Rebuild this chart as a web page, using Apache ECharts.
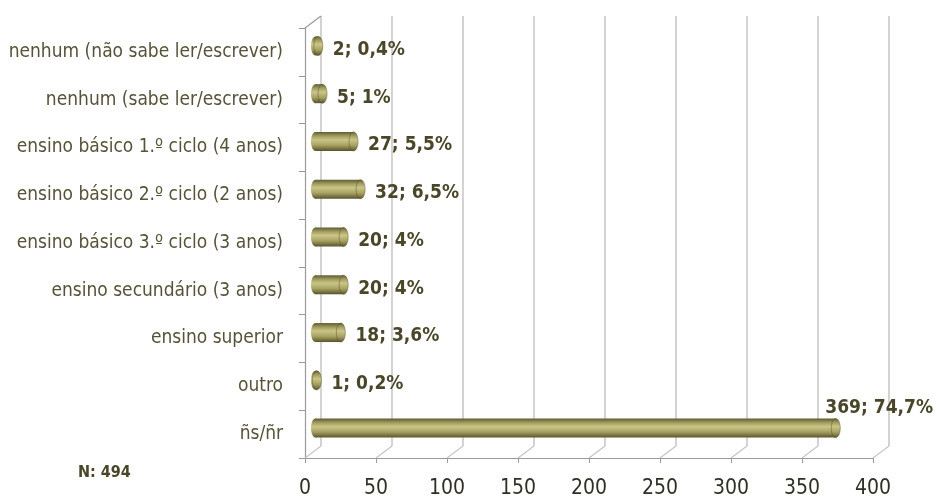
<!DOCTYPE html>
<html>
<head>
<meta charset="utf-8">
<script src="https://cdn.jsdelivr.net/npm/echarts@6/dist/echarts.min.js"></script>
<style>
  html, body { margin: 0; padding: 0; background: #fff; }
  #chart { width: 937px; height: 503px; }
</style>
</head>
<body>
<div id="chart"></div>
<script>
const categories = [
  'nenhum (não sabe ler/escrever)',
  'nenhum (sabe ler/escrever)',
  'ensino básico 1.º ciclo (4 anos)',
  'ensino básico 2.º ciclo (2 anos)',
  'ensino básico 3.º ciclo (3 anos)',
  'ensino secundário (3 anos)',
  'ensino superior',
  'outro',
  'ñs/ñr'
]
const counts = [2, 5, 27, 32, 20, 20, 18, 1, 369]
const percents = ['0,4%', '1%', '5,5%', '6,5%', '4%', '4%', '3,6%', '0,2%', '74,7%']
const xTicks = [0, 50, 100, 150, 200, 250, 300, 350, 400]
const totalN = 'N: 494'

const FONT = '"Liberation Sans Narrow", "DejaVu Sans Condensed", "Roboto", sans-serif'
const TEXT_COLOR = '#57533a'
const LABEL_COLOR = '#4a4629'
const WALL_DX = 16
const WALL_DY = 12

const chart = echarts.init(document.getElementById('chart'))

function cylinderFill() {
  return new echarts.graphic.LinearGradient(0, 0, 0, 1, [
    { offset: 0, color: '#5e5b33' },
    { offset: 0.22, color: '#a39e5e' },
    { offset: 0.42, color: '#cac688' },
    { offset: 0.7, color: '#a8a161' },
    { offset: 1, color: '#57532d' }
  ])
}

function renderCylinder(params, api) {
  const idx = params.dataIndex
  const val = api.value(0)
  const start = api.coord([0, api.value(1)])
  const end = api.coord([val, api.value(1)])
  const h = 19
  const rx = 4.5
  const y = start[1] - h / 2
  const isLast = idx === counts.length - 1
  const children = [
    {
      type: 'ellipse',
      shape: { cx: start[0] + rx, cy: start[1], rx: rx, ry: h / 2 },
      style: { fill: cylinderFill() }
    },
    {
      type: 'rect',
      shape: { x: start[0] + rx, y: y, width: Math.max(end[0] - start[0], 0), height: h },
      style: { fill: cylinderFill() }
    },
    {
      type: 'ellipse',
      shape: { cx: end[0] + rx, cy: end[1], rx: rx, ry: h / 2 },
      style: { fill: cylinderFill(), stroke: 'rgba(70,66,35,0.5)', lineWidth: 0.8 }
    },
    {
      type: 'text',
      style: {
        text: val + '; ' + percents[idx],
        x: isLast ? end[0] - 6 : end[0] + rx * 2 + 10,
        y: isLast ? end[1] - 20 : end[1] + 4,
        fill: LABEL_COLOR,
        font: 'bold 19px ' + FONT,
        align: 'left',
        verticalAlign: 'middle'
      }
    }
  ]
  return { type: 'group', children: children }
}

function renderWall(params, api) {
  const p = api.coord([api.value(0), 0])
  const cs = params.coordSys
  const bottom = cs.y + cs.height
  const lines = [
    {
      type: 'line',
      shape: { x1: p[0], y1: bottom, x2: p[0] + WALL_DX, y2: bottom - WALL_DY },
      style: { stroke: '#c4c4c4', lineWidth: 1.2 }
    }
  ]
  if (params.dataIndex === 0) {
    lines.push({
      type: 'line',
      shape: { x1: cs.x, y1: cs.y, x2: cs.x + WALL_DX, y2: cs.y - WALL_DY },
      style: { stroke: '#9a9a9a', lineWidth: 1.2 }
    })
  }
  return { type: 'group', children: lines }
}

const option = {
  backgroundColor: '#ffffff',
  animation: false,
  title: {
    text: totalN,
    left: 73,
    top: 460,
    textStyle: { fontFamily: FONT, fontSize: 16, fontWeight: 'bold', color: LABEL_COLOR }
  },
  grid: [
    { left: 305, right: 64, top: 28, bottom: 45 },
    { left: 321, right: 48, top: 16, bottom: 57 },
    { left: 311, right: 62, top: 22, bottom: 51 }
  ],
  xAxis: [
    {
      gridIndex: 0,
      type: 'value',
      min: 0,
      max: 400,
      interval: 50,
      axisLine: { show: true, lineStyle: { color: '#9a9a9a', width: 1.2 } },
      axisTick: { show: true, length: 5, lineStyle: { color: '#9a9a9a' } },
      splitLine: { show: false },
      axisLabel: { margin: 20, fontFamily: FONT, fontSize: 21, color: '#2f2f25' }
    },
    {
      gridIndex: 1,
      type: 'value',
      min: 0,
      max: 400,
      interval: 50,
      axisLine: { show: false },
      axisTick: { show: false },
      axisLabel: { show: false },
      splitLine: { show: true, lineStyle: { color: '#c9c9c9', width: 1.6 } }
    },
    {
      gridIndex: 2,
      type: 'value',
      min: 0,
      max: 400,
      interval: 50,
      show: false
    }
  ],
  yAxis: [
    {
      gridIndex: 0,
      type: 'category',
      inverse: true,
      data: categories,
      axisLine: { show: true, lineStyle: { color: '#9a9a9a', width: 1.2 } },
      axisTick: { show: true, length: 6, lineStyle: { color: '#9a9a9a' } },
      splitLine: { show: false },
      axisLabel: { margin: 22, fontFamily: FONT, fontSize: 19, color: TEXT_COLOR }
    },
    {
      gridIndex: 1,
      type: 'category',
      inverse: true,
      data: categories,
      show: false
    },
    {
      gridIndex: 2,
      type: 'category',
      inverse: true,
      data: categories,
      show: false
    }
  ],
  series: [
    {
      type: 'custom',
      xAxisIndex: 0,
      yAxisIndex: 0,
      renderItem: renderWall,
      data: xTicks.map(v => [v, 0]),
      encode: { x: 0, y: 1 },
      silent: true,
      z: 1
    },
    {
      type: 'custom',
      xAxisIndex: 2,
      yAxisIndex: 2,
      renderItem: renderCylinder,
      data: counts.map((v, i) => [v, i]),
      encode: { x: 0, y: 1 },
      z: 5
    }
  ]
}

chart.setOption(option)
</script>
</body>
</html>
